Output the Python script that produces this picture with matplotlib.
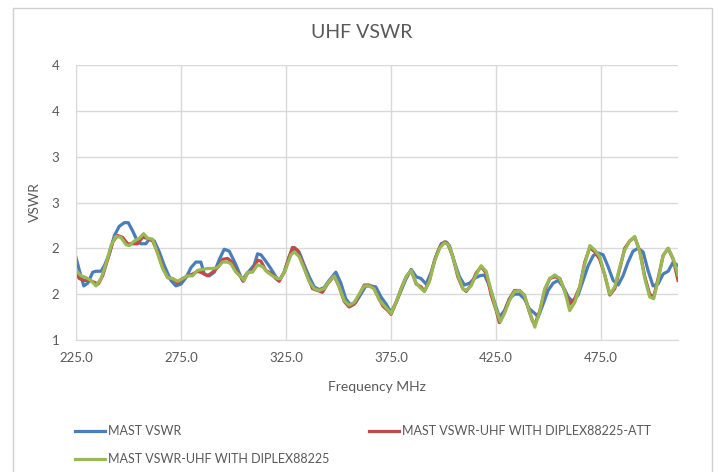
import matplotlib
matplotlib.use("Agg")
import matplotlib.pyplot as plt
from matplotlib.patches import Rectangle

# Data (frequency in MHz, VSWR)
blue_freq = [225.0, 226.6, 228.7, 230.6, 233.0, 234.5, 236.9, 238.5, 240.9, 243.3, 245.6, 248.0,
             249.9, 252.0, 254.4, 256.0, 258.3, 259.9, 262.3, 264.7, 267.1, 270.2, 272.6, 275.0,
             277.4, 279.8, 282.1, 284.5, 286.1, 288.5, 290.9, 293.3, 295.6, 298.0, 301.2, 302.8,
             304.3, 305.9, 307.8, 309.9, 311.5, 313.1, 315.4, 317.8, 320.2, 321.8, 324.2, 326.6,
             329.0, 331.3, 333.7, 336.1, 338.5, 340.8, 343.2, 345.6, 348.8, 351.2, 353.5, 355.9,
             358.3, 360.7, 363.1, 365.4, 367.8, 370.3, 372.8, 375.1, 377.5, 379.9, 382.3, 384.7,
             387.1, 389.4, 391.8, 394.2, 396.6, 399.0, 401.3, 402.9, 405.3, 407.7, 410.1, 412.5,
             414.8, 417.2, 419.6, 422.0, 424.4, 426.7, 429.1, 431.5, 433.9, 436.3, 438.6, 441.0,
             443.6, 445.2, 447.5, 449.9, 452.3, 454.7, 457.1, 459.5, 461.5, 464.2, 466.6, 469.0,
             471.4, 473.7, 476.1, 478.5, 480.9, 483.3, 485.6, 488.0, 490.4, 492.8, 495.2, 497.5,
             499.9, 502.3, 504.7, 507.1, 509.5, 511.8]
blue_vswr = [1.90, 1.76, 1.59, 1.62, 1.74, 1.75, 1.75, 1.81, 1.94, 2.14, 2.24, 2.28,
             2.28, 2.19, 2.07, 2.05, 2.05, 2.10, 2.08, 1.96, 1.81, 1.65, 1.59, 1.61,
             1.68, 1.79, 1.85, 1.85, 1.72, 1.70, 1.74, 1.88, 1.99, 1.97, 1.82, 1.73,
             1.65, 1.71, 1.76, 1.82, 1.94, 1.93, 1.86, 1.78, 1.69, 1.65, 1.74, 1.91,
             2.01, 1.96, 1.82, 1.69, 1.58, 1.55, 1.57, 1.65, 1.74, 1.62, 1.45, 1.38,
             1.41, 1.50, 1.59, 1.59, 1.58, 1.47, 1.39, 1.30, 1.41, 1.54, 1.67, 1.77,
             1.69, 1.67, 1.61, 1.74, 1.92, 2.05, 2.07, 2.03, 1.85, 1.69, 1.60, 1.62,
             1.67, 1.70, 1.71, 1.59, 1.41, 1.25, 1.32, 1.45, 1.50, 1.50, 1.45, 1.34,
             1.29, 1.25, 1.39, 1.54, 1.62, 1.65, 1.58, 1.47, 1.42, 1.49, 1.65, 1.81,
             1.92, 1.95, 1.93, 1.80, 1.65, 1.60, 1.70, 1.85, 1.97, 2.00, 1.96, 1.76,
             1.59, 1.61, 1.72, 1.75, 1.85, 1.81]

red_freq = [225.0, 226.6, 229.0, 231.4, 233.7, 235.6, 237.7, 240.1, 242.5, 244.8, 247.2, 249.6,
            252.0, 254.4, 256.7, 259.1, 261.5, 263.9, 266.3, 268.7, 271.0, 273.4, 275.8, 278.2,
            280.6, 283.0, 285.3, 287.7, 290.1, 292.5, 294.9, 297.2, 298.8, 301.2, 303.5, 304.7,
            306.7, 309.1, 311.5, 313.1, 315.4, 317.8, 320.2, 321.8, 324.2, 326.6, 328.1, 330.5,
            332.9, 335.3, 337.7, 340.1, 342.4, 344.8, 348.0, 350.4, 352.8, 355.1, 357.5, 359.9,
            362.3, 364.7, 367.0, 369.4, 371.2, 373.6, 375.1, 377.5, 379.9, 382.3, 384.7, 387.1,
            389.4, 391.0, 393.4, 395.8, 398.2, 400.5, 402.1, 404.5, 406.9, 409.3, 410.9, 413.2,
            415.6, 418.0, 420.4, 422.8, 425.2, 426.7, 429.1, 431.5, 433.9, 436.3, 438.6, 440.8,
            442.4, 443.6, 446.0, 448.3, 450.7, 453.1, 455.5, 457.9, 460.2, 462.6, 465.0, 467.4,
            469.8, 472.2, 474.5, 476.9, 479.3, 481.7, 484.1, 486.4, 488.8, 491.2, 493.6, 496.0,
            498.3, 500.2, 502.3, 504.7, 507.1, 509.5, 511.8]
red_vswr = [1.72, 1.67, 1.65, 1.65, 1.63, 1.61, 1.70, 1.88, 2.07, 2.14, 2.12, 2.05,
            2.05, 2.05, 2.12, 2.11, 2.08, 1.96, 1.79, 1.68, 1.67, 1.62, 1.67, 1.70,
            1.72, 1.75, 1.73, 1.70, 1.74, 1.79, 1.88, 1.89, 1.86, 1.76, 1.69, 1.64,
            1.73, 1.76, 1.87, 1.86, 1.76, 1.73, 1.67, 1.64, 1.74, 1.91, 2.01, 1.98,
            1.84, 1.69, 1.56, 1.54, 1.52, 1.61, 1.70, 1.58, 1.42, 1.36, 1.39, 1.49,
            1.60, 1.60, 1.56, 1.45, 1.37, 1.32, 1.28, 1.41, 1.56, 1.69, 1.76, 1.61,
            1.58, 1.53, 1.65, 1.87, 2.01, 2.07, 2.05, 1.91, 1.69, 1.56, 1.53, 1.60,
            1.73, 1.80, 1.73, 1.49, 1.32, 1.19, 1.30, 1.45, 1.54, 1.54, 1.49, 1.32,
            1.21, 1.17, 1.32, 1.54, 1.67, 1.69, 1.67, 1.53, 1.39, 1.45, 1.58, 1.85,
            2.01, 1.96, 1.88, 1.71, 1.49, 1.56, 1.78, 2.00, 2.08, 2.12, 1.97, 1.69,
            1.50, 1.47, 1.67, 1.92, 2.00, 1.88, 1.65]

green_freq = [225.0, 227.4, 229.8, 232.1, 234.5, 236.9, 239.3, 241.7, 244.0, 246.4, 248.8, 250.4,
              252.8, 255.2, 257.2, 259.1, 261.5, 263.9, 266.3, 268.7, 271.0, 273.4, 275.8, 278.2,
              280.6, 282.9, 285.3, 287.7, 290.1, 292.5, 294.8, 297.2, 298.8, 301.2, 303.5, 305.1,
              306.7, 309.1, 311.5, 313.9, 316.2, 318.6, 321.0, 322.6, 325.0, 327.4, 329.0, 331.3,
              333.7, 336.1, 338.5, 340.8, 343.2, 345.6, 348.0, 350.4, 352.8, 355.1, 357.5, 359.9,
              362.3, 364.7, 367.0, 369.4, 371.2, 373.6, 375.1, 377.5, 379.9, 382.3, 384.7, 387.1,
              389.4, 391.0, 393.4, 395.8, 398.2, 400.5, 402.5, 404.5, 406.9, 409.3, 410.9, 413.2,
              415.6, 418.0, 420.4, 422.8, 425.2, 427.2, 429.1, 431.5, 433.9, 436.3, 438.6, 441.0,
              442.4, 443.6, 446.0, 448.3, 450.7, 453.1, 455.5, 457.9, 460.2, 462.6, 465.0, 467.4,
              469.8, 472.2, 474.5, 476.9, 479.3, 481.7, 484.1, 486.4, 488.8, 491.2, 493.6, 496.0,
              498.3, 500.2, 502.3, 504.7, 507.1, 509.5, 511.8]
green_vswr = [1.76, 1.70, 1.68, 1.65, 1.59, 1.67, 1.83, 2.03, 2.13, 2.12, 2.04, 2.03,
              2.08, 2.11, 2.16, 2.11, 2.10, 1.94, 1.78, 1.68, 1.67, 1.64, 1.67, 1.70,
              1.70, 1.76, 1.77, 1.78, 1.78, 1.79, 1.85, 1.85, 1.83, 1.74, 1.69, 1.65,
              1.74, 1.74, 1.82, 1.80, 1.74, 1.70, 1.67, 1.67, 1.78, 1.93, 1.96, 1.91,
              1.78, 1.64, 1.56, 1.54, 1.56, 1.64, 1.70, 1.58, 1.43, 1.38, 1.41, 1.50,
              1.59, 1.59, 1.56, 1.44, 1.39, 1.33, 1.29, 1.41, 1.56, 1.69, 1.76, 1.62,
              1.56, 1.53, 1.64, 1.86, 2.00, 2.06, 2.04, 1.91, 1.71, 1.56, 1.54, 1.59,
              1.71, 1.81, 1.75, 1.53, 1.33, 1.20, 1.29, 1.43, 1.53, 1.54, 1.49, 1.31,
              1.22, 1.14, 1.32, 1.56, 1.67, 1.71, 1.67, 1.53, 1.32, 1.41, 1.58, 1.83,
              2.03, 1.98, 1.91, 1.71, 1.50, 1.58, 1.80, 1.98, 2.08, 2.13, 1.96, 1.67,
              1.47, 1.45, 1.65, 1.92, 2.00, 1.89, 1.71]

series_names = ["MAST VSWR",
                "MAST VSWR-UHF WITH DIPLEX88225-ATT",
                "MAST VSWR-UHF WITH DIPLEX88225"]
x_ticks = [225, 275, 325, 375, 425, 475]
y_ticks = [1.0, 1.5, 2.0, 2.5, 3.0, 3.5, 4.0]

text_grey = "#595959"
grid_grey = "#d9d9d9"
plt.rcParams["font.family"] = ["Lato", "DejaVu Sans"]

fig = plt.figure(figsize=(7.21, 4.72), dpi=100)
ax = fig.add_axes([76 / 721, 1 - 340 / 472, (678 - 76) / 721, (340 - 65) / 472])

# chart border like the Excel chart area
fig.patches.append(Rectangle((13 / 721, -0.1), (712 - 13) / 721, 1.1 - 8 / 472,
                             transform=fig.transFigure, fill=False,
                             edgecolor="#d0d0d0", linewidth=1.0))

l_blue, = ax.plot(blue_freq, blue_vswr, color="#4a7ebb", linewidth=2.3, label=series_names[0])
l_red, = ax.plot(red_freq, red_vswr, color="#be4b48", linewidth=2.3, label=series_names[1])
l_green, = ax.plot(green_freq, green_vswr, color="#98b954", linewidth=2.3, label=series_names[2])

ax.set_xlim(225, 511.8)
ax.set_ylim(1.0, 4.0)
ax.set_xticks(x_ticks)
ax.set_xticklabels(["%.1f" % t for t in x_ticks])
ax.set_yticks(y_ticks)
ax.set_yticklabels(["%d" % round(t + 0.001) for t in y_ticks])
ax.grid(True, color=grid_grey, linewidth=1.0)
ax.set_axisbelow(True)
ax.tick_params(axis="x", length=0, colors=text_grey, labelsize=9.5, pad=9)
ax.tick_params(axis="y", length=0, colors=text_grey, labelsize=9.5, pad=12)
for side in ["top", "right"]:
    ax.spines[side].set_visible(False)
for side in ["left", "bottom"]:
    ax.spines[side].set_color(grid_grey)

ax.set_xlabel("Frequency MHz", color=text_grey, fontsize=10, labelpad=12)
ax.set_ylabel("VSWR", color=text_grey, fontsize=10, labelpad=8)
fig.text(362 / 721, 1 - 33 / 472, "UHF VSWR", color=text_grey, fontsize=14,
         ha="center", va="center")

fig.legend(handles=[l_blue, l_green, l_red], labels=[series_names[0], series_names[2], series_names[1]],
           ncol=2, loc="upper left", bbox_to_anchor=(64 / 721, 1 - 414 / 472),
           frameon=False, fontsize=9, labelcolor=text_grey, handlelength=2.4,
           handletextpad=0.2, columnspacing=3.2, labelspacing=1.25)

fig.savefig("out.png", dpi=100)
